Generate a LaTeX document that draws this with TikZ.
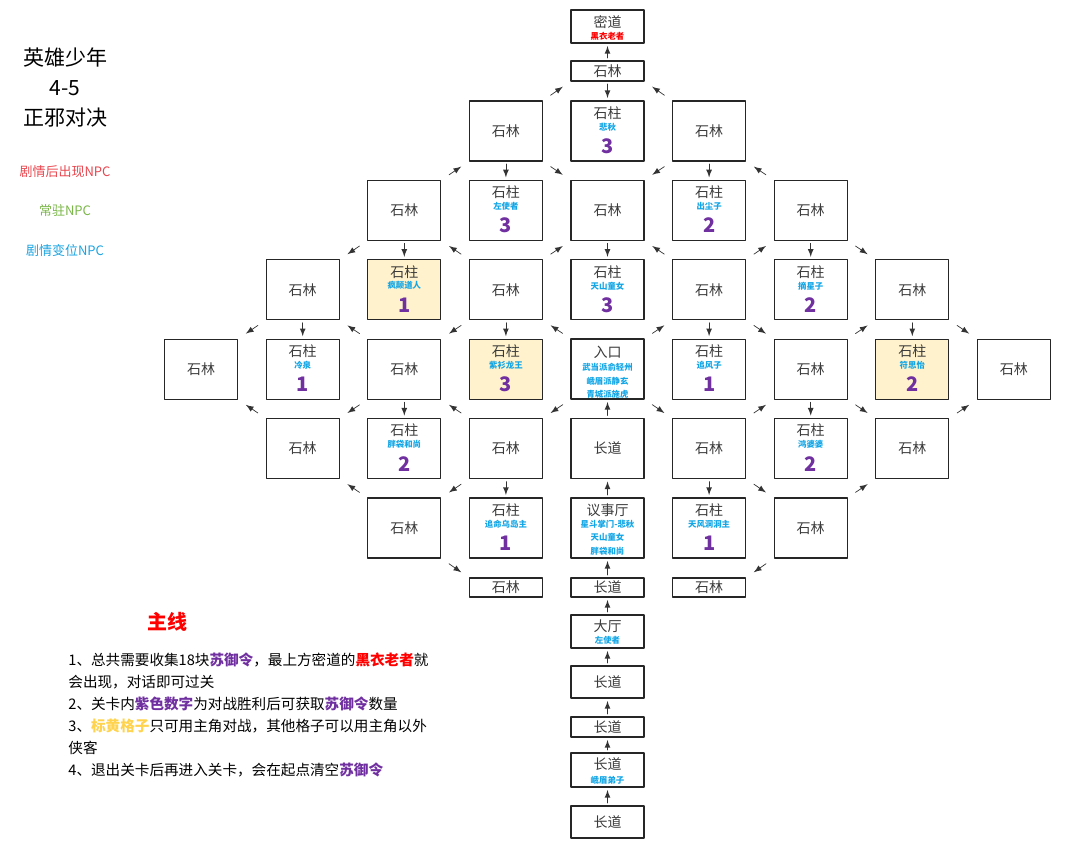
\documentclass[tikz,border=0pt]{standalone}
\usepackage{fontspec}
\setmainfont{Noto Sans CJK SC}
\usepackage{tikz}
\definecolor{npc_blue}{HTML}{13A6E6}
\definecolor{num_purple}{HTML}{7030A0}
\definecolor{pillar_yellow}{HTML}{FFF2CC}
\definecolor{tag_red}{HTML}{E8464E}
\definecolor{tag_green}{HTML}{7AB648}
\definecolor{tag_blue}{HTML}{1AA3E0}
\definecolor{gold_text}{HTML}{FFD34E}
\definecolor{box_text}{HTML}{3A3A3A}
\tikzset{
	box/.style={draw=black!85,line width=0.65pt,minimum width=36.5pt,minimum height=30pt,inner sep=0pt,outer sep=0pt},
	lbl/.style={text=box_text,font=\fontsize{7}{8}\selectfont},
	who/.style={text=npc_blue,inner sep=0pt,align=center,font=\fontsize{4.2}{6.8}\selectfont\bfseries},
	val/.style={text=num_purple,inner sep=0pt,font=\fontsize{10}{12}\selectfont\bfseries},
	vt/.style={-latex,draw=black!80,line width=0.35pt,shorten <=1.5pt,shorten >=1.5pt},
	dg/.style={vt,shorten <=5pt,shorten >=5pt}
}

\begin{document}
\begin{tikzpicture}[x=0.5pt,y=-0.5pt,line join=round,line cap=round]
	\useasboundingbox (0,0) rectangle (1080,851);
	\node[align=center,font=\fontsize{10.5}{15}\selectfont] (title) at (65,87) {英雄少年\\4-5\\正邪对决};
	\node[font=\fontsize{6.5}{8}\selectfont,text=tag_red]   (leg1) at (65,172) {剧情后出现NPC};
	\node[font=\fontsize{6.5}{8}\selectfont,text=tag_green] (leg2) at (65,211) {常驻NPC};
	\node[font=\fontsize{6.5}{8}\selectfont,text=tag_blue]  (leg3) at (65,251) {剧情变位NPC};
	% grid of pillars
	\foreach \r/\c/\who/\v/\f in {1/5/悲秋/3/white, 2/4/左使者/3/white, 2/6/出尘子/2/white,
		3/3/疯颠道人/1/pillar_yellow, 3/5/天山童女/3/white, 3/7/摘星子/2/white,
		4/2/冷泉/1/white, 4/4/紫衫龙王/3/pillar_yellow, 4/6/追风子/1/white, 4/8/符思怡/2/pillar_yellow,
		5/3/胖袋和尚/2/white, 5/7/鸿婆婆/2/white, 6/4/追命乌岛主/1/white, 6/6/天风洞洞主/1/white}
	{
		\pgfmathsetmacro\x{607.5+(\c-5)*101.6}
		\pgfmathsetmacro\y{131+(\r-1)*79.4}
		\node[box,fill=\f] (s\r\c) at (\x,\y) {};
		\node[lbl,inner sep=0pt] (s\r\c-t) at (\x,\y-18) {石柱};
		\node[who] (s\r\c-n) at (\x,\y-4) {\who};
		\node[val] (s\r\c-v) at (\x,\y+15) {\v};
	}
	\foreach \r/\c in {1/4,1/6,2/3,2/5,2/7,3/2,3/4,3/6,3/8,4/1,4/3,4/7,4/9,5/2,5/4,5/6,5/8,6/3,6/7}
	{
		\pgfmathsetmacro\x{607.5+(\c-5)*101.6}
		\pgfmathsetmacro\y{131+(\r-1)*79.4}
		\node[box,lbl] (s\r\c) at (\x,\y) {石林};
	}
	\node[box] (s45) at (607.5,369) {};
	\node[lbl,inner sep=0pt] (s45-t) at (607.5,352) {入口};
	\node[who] (s45-n) at (607.5,381) {武当派俞轻州\\峨眉派静玄\\青城派施虎};
	\node[box,lbl] (s55) at (607.5,448.5) {长道};
	\node[box] (s65) at (607.5,528) {};
	\node[lbl,inner sep=0pt] (s65-t) at (607.5,510) {议事厅};
	\node[who] (s65-n) at (607.5,537.5) {星斗掌门-悲秋\\天山童女\\胖袋和尚};
	% top end
	\node[box,minimum height=16.5pt] (mi) at (607.5,26.5) {};
	\node[lbl,inner sep=0pt] (mi-t) at (607.5,22) {密道};
	\node[who,text=red] (mi-n) at (607.5,36.5) {黑衣老者};
	\node[box,lbl,minimum height=10pt] (t0) at (607.5,71) {石林};
	% bottom end
	\foreach \c/\t in {4/石林,5/长道,6/石林}
	{
		\pgfmathsetmacro\x{607.5+(\c-5)*101.6}
		\node[box,lbl,minimum height=9.5pt] (s7\c) at (\x,587.5) {\t};
	}
	\node[box,minimum height=16.5pt] (hall) at (607.5,631.5) {};
	\node[lbl,inner sep=0pt] (hall-t) at (607.5,626.5) {大厅};
	\node[who] (hall-n) at (607.5,640.5) {左使者};
	\node[box,lbl,minimum height=16pt] (d1) at (607.5,682) {长道};
	\node[box,lbl,minimum height=10pt] (d2) at (607.5,727) {长道};
	\node[box,minimum height=17pt] (d3) at (607.5,770) {};
	\node[lbl,inner sep=0pt] (d3-t) at (607.5,764.5) {长道};
	\node[who] (d3-n) at (607.5,780) {峨眉弟子};
	\node[box,lbl,minimum height=16pt] (d4) at (607.5,822) {长道};
	% arrows
	\foreach \a/\b in {t0/mi,t0/s15,s14/s24,s16/s26,s23/s33,s25/s35,s27/s37,s32/s42,s34/s44,s36/s46,s38/s48,
		s43/s53,s47/s57,s55/s45,s54/s64,s56/s66,s65/s55,s75/s65,hall/s75,d1/hall,d2/d1,d3/d2,d4/d3}
		\draw[vt] (\a) -- (\b);
	\foreach \a/\b in {s14/s25,s27/s38,s36/s47,s38/s49,s45/s56,s47/s58,s56/s67,s63/s74}
		\draw[dg] (\a.south east) -- (\b.north west);
	\foreach \a/\b in {s16/s25,s23/s32,s32/s41,s34/s43,s43/s52,s45/s54,s54/s63,s67/s76}
		\draw[dg] (\a.south west) -- (\b.north east);
	\foreach \a/\b in {s14/t0,s23/s14,s34/s25,s36/s27,s45/s36,s47/s38,s56/s47,s58/s49,s67/s58}
		\draw[dg] (\a.north east) -- (\b.south west);
	\foreach \a/\b in {s16/t0,s27/s16,s34/s23,s36/s25,s43/s32,s45/s34,s52/s41,s54/s43,s63/s52}
		\draw[dg] (\a.north west) -- (\b.south east);
	% main line notes
	\node[font=\fontsize{10}{12}\selectfont\bfseries,text=red] (main) at (167,622) {主线};
	\node[anchor=north west,align=left,inner sep=0pt,font=\fontsize{7.3}{11}\selectfont] (rules) at (68,652)
	{1、总共需要收集18块{\bfseries\color{num_purple}苏御令}，最上方密道的{\bfseries\color{red}黑衣老者}就\\
	会出现，对话即可过关\\
	2、关卡内{\bfseries\color{num_purple}紫色数字}为对战胜利后可获取{\bfseries\color{num_purple}苏御令}数量\\
	3、{\bfseries\color{gold_text}标黄格子}只可用主角对战，其他格子可以用主角以外\\
	侠客\\
	4、退出关卡后再进入关卡，会在起点清空{\bfseries\color{num_purple}苏御令}};
\end{tikzpicture}
\end{document}
